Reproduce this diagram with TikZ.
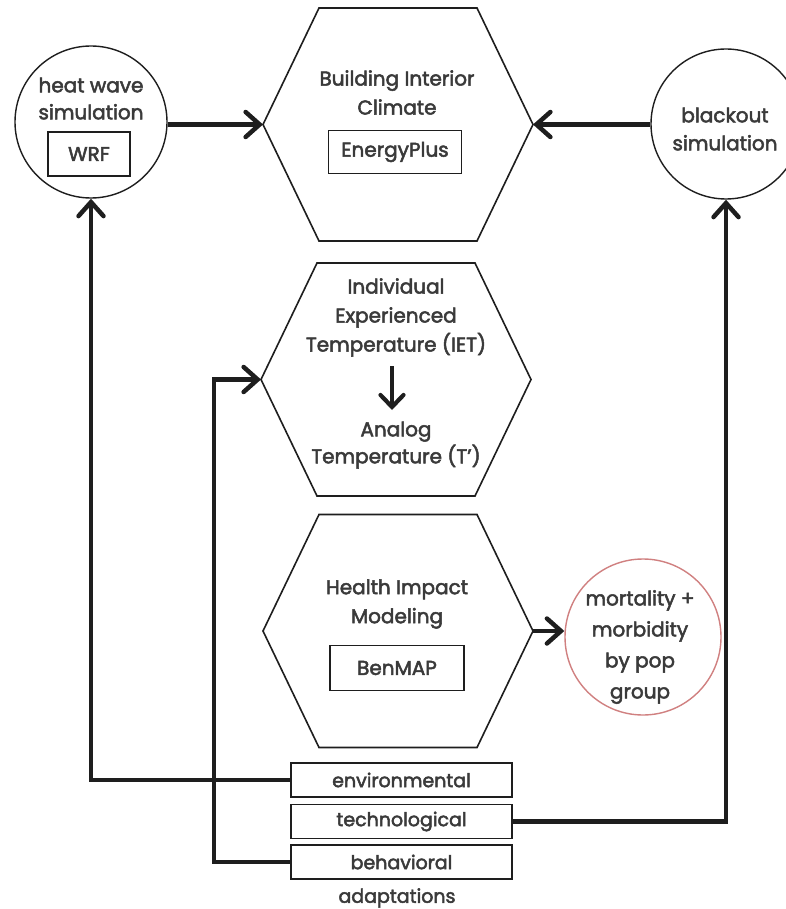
\documentclass[tikz,border=0pt]{standalone}
\usepackage{fontspec}
\setmainfont{Poppins}[BoldFont=Poppins, BoldFeatures={FakeBold=2.5}]
\usetikzlibrary{arrows.meta,calc}
\definecolor{txt}{HTML}{3A3A3A}
\definecolor{ln}{HTML}{1E1E1E}
\definecolor{redc}{HTML}{D08080}
\tikzset{
  hexline/.style={draw=ln, line width=1.6pt, line join=miter},
  barb/.style={-{Straight Barb[length=14pt,width=25pt,line cap=round]}},
  flow/.style={draw=ln, line width=4.5pt, barb},
  lbl/.style={text=txt, font=\bfseries\fontsize{20}{29}\selectfont, align=center, inner sep=0pt},
  toolbox/.style={draw=ln, line width=1.6pt, text=txt, font=\bfseries\fontsize{20}{20}\selectfont, inner sep=0pt},
  bubble/.style={circle, draw=ln, line width=1.4pt, inner sep=0pt},
  adapt/.style={draw=ln, line width=1.6pt, text=txt, font=\bfseries\fontsize{19}{20}\selectfont, minimum width=221pt, minimum height=34pt, inner sep=0pt}
}
\begin{document}
\begin{tikzpicture}[x=1pt, y=-1pt]
\useasboundingbox (0,0) rectangle (786,909);
\fill[white] (0,0) rectangle (786,909);

% hexagons
\coordinate (h1) at (398,124.5);
\coordinate (h2) at (396,379.5);
\coordinate (h3) at (398,631);
\foreach \h in {h1,h2,h3}{
  \draw[hexline] ($(\h)+(-135,0)$) coordinate (\h w) -- ($(\h)+(-79,-116.5)$) -- ($(\h)+(79,-116.5)$)
     -- ($(\h)+(135,0)$) coordinate (\h e) -- ($(\h)+(79,116.5)$) -- ($(\h)+(-79,116.5)$) -- cycle;
}

% hexagon 1
\node[lbl] (bic) at (397,92.5) {Building Interior\\Climate};
\node[toolbox, minimum width=133pt, minimum height=43pt] (eplus) at (395,152) {EnergyPlus};

% hexagon 2
\node[lbl] (iet) at (396,317.5) {Individual\\Experienced\\Temperature (IET)};
\node[lbl, font=\bfseries\fontsize{20}{27}\selectfont] (analog) at (396,445) {Analog\\Temperature (T')};
\coordinate (ia) at (392,366);
\coordinate (ib) at (392,410);
\draw[draw=ln, line width=4.2pt, -{Straight Barb[length=12pt,width=23pt,line cap=round]}] (ia) -- (ib);

% hexagon 3
\node[lbl] (him) at (397,604) {Health Impact\\Modeling};
\node[toolbox, minimum width=134pt, minimum height=45pt] (benmap) at (397,668) {BenMAP};

% heat wave circle
\node[bubble, minimum size=152pt] (hw) at (91,122) {};
\node[lbl, font=\bfseries\fontsize{20}{27}\selectfont] (hwt) at (91,98.5) {heat wave\\simulation};
\node[toolbox, minimum width=82pt, minimum height=44pt] (wrf) at (89,154) {WRF};

% blackout circle
\node[bubble, minimum size=150pt] (bo) at (726,124) {};
\node[lbl, font=\bfseries\fontsize{20}{28}\selectfont] (bot) at (725,129) {blackout\\simulation};

% mortality circle
\node[bubble, draw=redc, minimum size=156pt] (mort) at (643,637) {};
\node[lbl, font=\bfseries\fontsize{20}{31}\selectfont] (mortt) at (640,647) {mortality +\\morbidity\\by pop\\group};

% adaptation boxes
\node[adapt] (env) at (401.5,780) {environmental};
\node[adapt] (tech) at (401.5,821.5) {technological};
\node[adapt] (beh) at (401.5,862) {behavioral};
\node[lbl, font=\bfseries\fontsize{19}{20}\selectfont] (adl) at (397,898) {adaptations};

% connectors
\draw[flow] (hw.east |- h1w) -- (h1w);
\draw[flow] (bo.west |- h1e) -- (h1e);
\draw[flow] (h3e) -- (h3e -| mort.west);
\draw[flow] (env.west) -| (hw.south);
\draw[flow] (tech.east) -| (bo.south);
\coordinate (bx) at (214,862);
\draw[flow] (beh.west) -- (bx) |- (h2w);
\end{tikzpicture}
\end{document}
